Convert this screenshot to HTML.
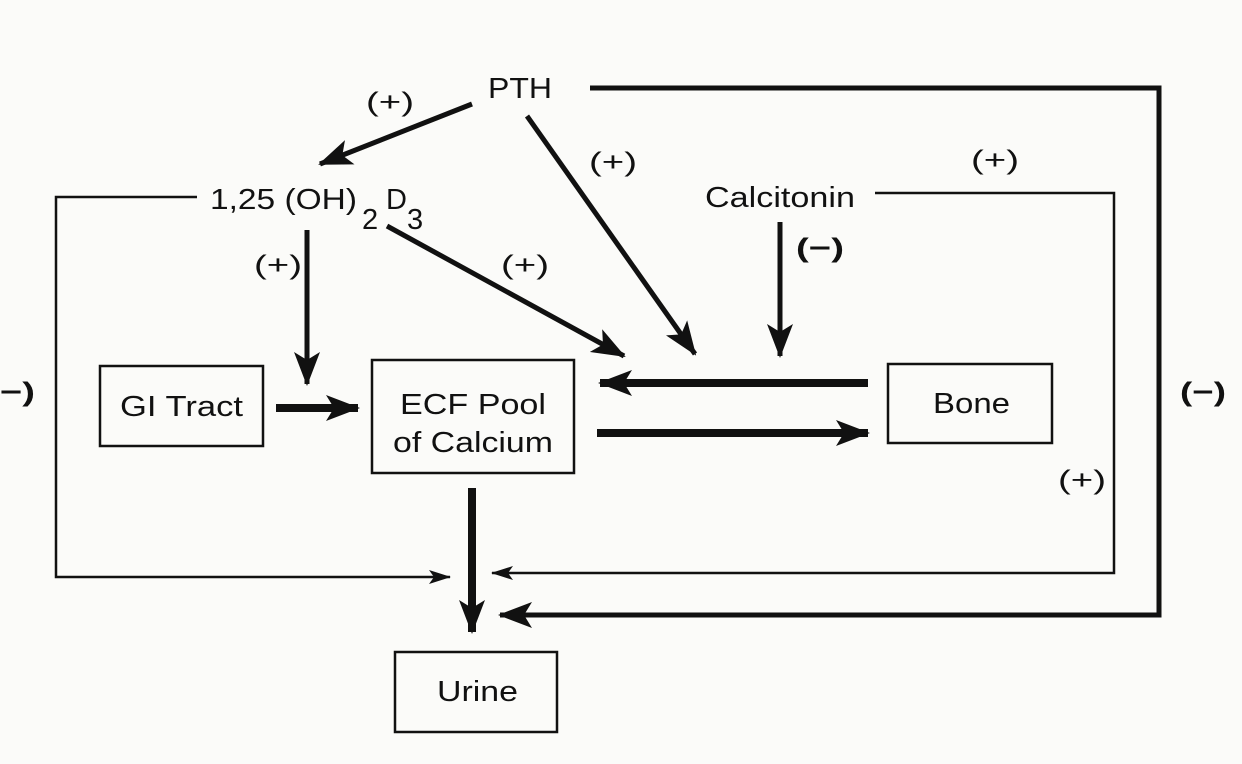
<!DOCTYPE html>
<html><head><meta charset="utf-8"><style>
html,body{margin:0;padding:0;background:#fbfbf9;}
svg{display:block;}
text{font-family:"Liberation Sans",sans-serif;fill:#111;}
</style></head><body>
<svg width="1242" height="764" viewBox="0 0 1242 764" xmlns="http://www.w3.org/2000/svg">
<defs>
<marker id="s" markerWidth="22" markerHeight="14" refX="21" refY="7" orient="auto" markerUnits="userSpaceOnUse" viewBox="0 0 22 14">
<path d="M0,0 L22,7 L0,14 L5,7 z" fill="#111"/></marker>
<marker id="b" markerWidth="34" markerHeight="26" refX="32" refY="13" orient="auto" markerUnits="userSpaceOnUse" viewBox="0 0 34 26">
<path d="M0,0 L34,13 L0,26 L8,13 z" fill="#111"/></marker>
</defs>
<rect width="1242" height="764" fill="#fbfbf9"/>
<g fill="none" stroke="#111">
<rect x="100" y="366" width="163" height="80" stroke-width="2.5"/>
<rect x="372" y="360" width="202" height="113" stroke-width="2.5"/>
<rect x="888" y="364" width="164" height="79" stroke-width="2.5"/>
<rect x="395" y="652" width="162" height="80" stroke-width="2.5"/>
<polyline points="590,88 1159,88 1159,615 500,615" stroke-width="5" marker-end="url(#b)"/>
<polyline points="197,197 56,197 56,577 450,577" stroke-width="2.5" marker-end="url(#s)"/>
<polyline points="875,193 1114,193 1114,573 492,573" stroke-width="2.5" marker-end="url(#s)"/>
<line x1="472" y1="104" x2="320" y2="164" stroke-width="5" marker-end="url(#b)"/>
<line x1="527" y1="116" x2="695" y2="354" stroke-width="5" marker-end="url(#b)"/>
<line x1="387" y1="226" x2="624" y2="356" stroke-width="5" marker-end="url(#b)"/>
<line x1="307" y1="230" x2="307" y2="384" stroke-width="5" marker-end="url(#b)"/>
<line x1="780" y1="222" x2="780" y2="356" stroke-width="5" marker-end="url(#b)"/>
<line x1="276" y1="408" x2="358" y2="408" stroke-width="8" marker-end="url(#b)"/>
<line x1="868" y1="383" x2="600" y2="383" stroke-width="8" marker-end="url(#b)"/>
<line x1="597" y1="433" x2="868" y2="433" stroke-width="8" marker-end="url(#b)"/>
<line x1="472" y1="488" x2="472" y2="632" stroke-width="8" marker-end="url(#b)"/>
</g>
<g font-size="29">
<text x="488" y="98" textLength="64" lengthAdjust="spacingAndGlyphs">PTH</text>
<text x="210" y="209" textLength="147" lengthAdjust="spacingAndGlyphs">1,25 (OH)</text>
<text x="362" y="229">2</text>
<text x="386" y="209">D</text>
<text x="407" y="229">3</text>
<text x="705" y="207" textLength="150" lengthAdjust="spacingAndGlyphs">Calcitonin</text>
<text x="120" y="416" textLength="123" lengthAdjust="spacingAndGlyphs">GI Tract</text>
<text x="400" y="414" textLength="146" lengthAdjust="spacingAndGlyphs">ECF Pool</text>
<text x="393" y="452" textLength="160" lengthAdjust="spacingAndGlyphs">of Calcium</text>
<text x="933" y="413" textLength="77" lengthAdjust="spacingAndGlyphs">Bone</text>
<text x="437" y="701" textLength="81" lengthAdjust="spacingAndGlyphs">Urine</text>
</g>
<g font-size="27">
<text x="366" y="111" textLength="48" lengthAdjust="spacingAndGlyphs">(+)</text>
<text x="589" y="171" textLength="48" lengthAdjust="spacingAndGlyphs">(+)</text>
<text x="971" y="169" textLength="48" lengthAdjust="spacingAndGlyphs">(+)</text>
<text x="254" y="274" textLength="48" lengthAdjust="spacingAndGlyphs">(+)</text>
<text x="501" y="274" textLength="48" lengthAdjust="spacingAndGlyphs">(+)</text>
<text x="796" y="257" textLength="48" lengthAdjust="spacingAndGlyphs" font-weight="bold">(−)</text>
<text x="1058" y="489" textLength="48" lengthAdjust="spacingAndGlyphs">(+)</text>
<text x="1180" y="401" textLength="46" lengthAdjust="spacingAndGlyphs" font-weight="bold">(−)</text>
<text x="0" y="401" textLength="35" lengthAdjust="spacingAndGlyphs" font-weight="bold">−)</text>
</g>
</svg>
</body></html>
